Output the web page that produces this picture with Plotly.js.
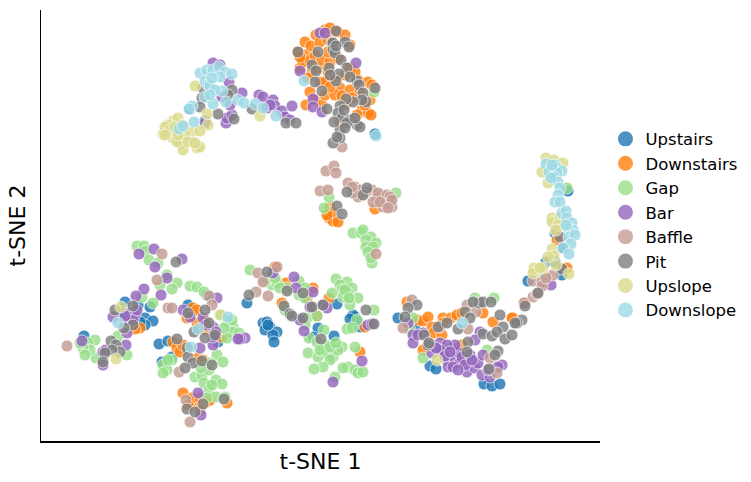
<!DOCTYPE html>
<html><head><meta charset="utf-8">
<script src="https://cdn.plot.ly/plotly-3.0.1.min.js"></script>
<style>html,body{margin:0;padding:0;background:#fff}</style></head>
<body><div id="chart" style="width:751px;height:482px"></div>
<script>
const categories = ["Upstairs","Downstairs","Gap","Bar","Baffle","Pit","Upslope","Downslope"];
const colors = ["#1f77b4","#ff7f0e","#98df8a","#9467bd","#c49c94","#7f7f7f","#dbdb8d","#9edae5"];

const upstairs = [[190,109],[375,134],[247,303],[263,323],[267,322],[270,327],[265,330],[277,332],[273,335],[274,342],[337,304],[355,317],[353,315],[360,327],[318,328],[334,336],[313,337],[125,302],[150,307],[145,318],[153,321],[145,325],[138,305],[123,313],[84,336],[159,344],[168,341],[188,305],[207,295],[162,362],[172,357],[218,342],[398,318],[430,366],[436,369],[484,384],[492,386],[500,384],[415,325],[568,191],[555,233],[563,248],[546,262],[528,281],[562,275],[555,262],[205,121],[268,325],[358,322],[350,319],[140,322]];

const downstairs = [[300,68],[305,55],[298,52],[305,42],[316,35],[325,30],[330,28],[338,32],[345,35],[350,45],[303,62],[310,60],[315,55],[318,68],[312,72],[322,60],[330,62],[338,58],[308,78],[320,82],[328,72],[335,78],[345,75],[350,68],[358,80],[368,82],[372,85],[340,88],[350,90],[360,92],[352,98],[345,105],[315,100],[322,105],[306,105],[325,95],[335,95],[362,110],[368,113],[371,115],[357,115],[370,100],[340,122],[375,209],[330,207],[329,218],[333,221],[338,222],[332,212],[327,215],[275,267],[286,283],[313,288],[307,298],[329,298],[282,303],[312,308],[317,316],[365,327],[360,352],[183,393],[193,403],[207,402],[210,400],[193,308],[187,318],[197,310],[205,330],[222,337],[173,342],[177,348],[180,352],[198,358],[203,360],[140,328],[135,329],[227,403],[192,398],[197,323],[407,302],[418,320],[423,321],[428,317],[432,327],[434,333],[443,318],[451,318],[457,315],[462,313],[443,323],[462,345],[493,322],[513,318],[483,313],[423,350],[442,335],[557,240],[567,268],[525,303],[512,318],[311,46],[320,42],[328,40],[300,57],[328,52],[325,82],[330,87],[342,96],[355,72],[365,105],[310,92],[200,398],[188,405],[200,410],[205,320],[183,345]];

const gap = [[374,92],[396,193],[324,208],[329,197],[353,233],[361,233],[363,230],[371,237],[366,240],[376,243],[366,247],[373,247],[368,252],[372,263],[371,258],[250,270],[272,285],[277,283],[268,278],[265,281],[287,288],[299,281],[305,288],[299,295],[305,298],[285,310],[307,318],[305,325],[317,316],[336,279],[347,282],[340,285],[352,288],[342,290],[348,293],[343,297],[332,293],[358,298],[350,305],[374,310],[357,320],[347,329],[352,328],[324,330],[309,338],[317,342],[323,350],[308,353],[318,357],[327,353],[333,357],[342,347],[338,350],[330,360],[323,367],[314,369],[335,377],[348,367],[343,368],[355,370],[358,373],[355,347],[363,372],[137,246],[144,246],[145,251],[149,260],[158,263],[167,275],[177,283],[160,285],[172,289],[153,303],[142,297],[190,286],[197,287],[204,292],[220,315],[228,322],[233,327],[232,332],[227,338],[239,333],[217,355],[223,362],[210,363],[195,377],[202,375],[204,383],[216,380],[222,384],[209,390],[216,397],[225,397],[172,360],[163,365],[167,370],[163,373],[118,336],[127,355],[96,358],[95,340],[88,343],[90,350],[83,348],[85,355],[80,343],[413,318],[410,330],[475,298],[494,298],[423,358],[487,350],[567,188],[543,277],[275,278],[280,288],[326,345],[320,350],[330,347],[336,343],[345,290],[349,298],[209,370],[201,368],[212,385],[207,398],[168,360],[232,320],[224,328]];

const bar = [[320,33],[325,33],[356,63],[300,71],[313,99],[313,107],[322,112],[213,63],[220,65],[229,82],[242,93],[259,95],[263,97],[273,100],[275,106],[282,111],[285,117],[292,106],[290,120],[226,123],[227,118],[232,115],[230,105],[222,97],[205,123],[267,108],[273,273],[294,277],[296,288],[313,292],[310,307],[323,305],[327,308],[300,320],[304,331],[368,325],[372,324],[362,361],[333,382],[245,338],[240,339],[154,249],[139,254],[155,267],[182,259],[167,278],[161,295],[144,289],[136,296],[113,317],[130,313],[135,315],[128,320],[127,333],[183,310],[190,317],[217,298],[213,327],[216,332],[213,345],[238,339],[126,345],[103,352],[106,350],[103,365],[82,341],[200,348],[198,393],[201,415],[203,318],[423,333],[413,335],[413,343],[418,335],[432,353],[440,343],[443,351],[447,360],[452,348],[455,358],[448,367],[460,363],[467,372],[468,360],[475,368],[478,363],[482,375],[483,355],[490,377],[502,365],[498,367],[480,332],[475,340],[458,352],[455,345],[462,357],[447,345],[453,367],[470,355],[408,323],[551,285],[133,320],[137,310],[125,316],[213,337],[206,325],[440,350],[445,356],[450,352],[465,365],[472,360],[458,370],[436,348],[488,370],[270,105]];

const baffle = [[342,147],[326,171],[334,166],[336,173],[320,191],[328,190],[348,183],[355,187],[358,197],[372,190],[377,198],[382,195],[389,202],[383,207],[392,207],[378,193],[360,190],[353,193],[387,195],[390,197],[373,202],[376,254],[277,267],[258,273],[263,282],[256,292],[268,296],[162,254],[157,280],[168,308],[172,308],[67,346],[209,296],[212,305],[179,372],[186,400],[190,422],[412,300],[403,328],[467,305],[476,312],[468,329],[490,358],[497,373],[440,327],[553,275],[533,281],[542,282],[542,286],[533,297],[537,294],[524,303],[556,231],[386,204],[380,202],[392,200],[388,208],[352,187],[366,192],[546,278]];

const pit = [[336,31],[332,43],[333,43],[345,42],[349,47],[298,52],[318,52],[333,50],[335,53],[341,60],[312,65],[316,71],[329,68],[347,68],[339,74],[336,81],[315,82],[322,91],[357,81],[359,85],[363,93],[375,88],[366,102],[362,100],[353,102],[346,99],[327,109],[340,106],[338,113],[342,118],[350,120],[357,125],[360,127],[340,130],[347,123],[340,138],[333,143],[337,137],[232,90],[228,95],[202,98],[200,107],[218,114],[234,119],[286,123],[296,123],[252,109],[203,88],[347,192],[363,195],[367,188],[337,206],[342,214],[267,272],[249,295],[287,291],[303,293],[284,306],[290,314],[292,316],[303,318],[312,307],[323,305],[366,310],[374,324],[321,339],[176,262],[115,310],[133,306],[133,325],[124,328],[111,341],[116,345],[120,352],[112,350],[105,353],[103,362],[188,313],[205,310],[209,323],[194,332],[205,338],[215,335],[177,339],[187,348],[188,357],[193,363],[202,361],[212,365],[185,368],[203,404],[224,399],[187,409],[195,412],[417,305],[408,308],[405,317],[424,335],[428,345],[438,327],[447,323],[458,329],[465,312],[470,318],[479,303],[483,302],[491,302],[483,334],[492,336],[500,315],[503,327],[497,332],[505,339],[512,335],[522,320],[517,323],[468,342],[467,352],[498,351],[495,355],[489,369],[429,343],[473,302],[560,237],[562,269],[538,293],[525,306],[515,323],[336,46],[334,122],[344,110],[355,118],[345,128],[330,75],[350,77]];

const upslope = [[195,86],[207,114],[208,125],[260,116],[163,134],[173,121],[178,118],[168,125],[165,127],[173,138],[170,130],[180,143],[183,150],[192,132],[200,131],[193,142],[197,148],[200,147],[177,142],[182,125],[121,307],[116,359],[221,315],[437,360],[546,158],[554,160],[563,163],[542,172],[548,183],[552,218],[552,222],[560,217],[558,225],[556,230],[552,249],[554,256],[548,257],[534,268],[533,273],[543,268],[556,265],[569,274],[175,127],[185,135],[178,135],[188,142],[165,135],[195,143],[540,268],[552,170]];

const downslope = [[304,81],[376,136],[200,73],[207,70],[213,70],[219,67],[225,72],[232,74],[205,81],[208,85],[210,86],[222,91],[205,97],[213,104],[226,102],[238,100],[244,103],[255,104],[263,108],[276,116],[192,106],[189,109],[194,122],[179,129],[183,126],[220,77],[215,90],[118,323],[228,317],[198,329],[191,347],[462,323],[546,164],[555,165],[557,168],[562,171],[549,172],[557,173],[554,177],[558,182],[560,188],[558,195],[555,202],[560,202],[562,213],[566,211],[567,218],[572,223],[573,230],[568,228],[569,237],[575,235],[571,244],[563,248],[569,254],[212,78],[210,95],[552,165],[551,178],[566,225]];

const series = [upstairs,downstairs,gap,bar,baffle,pit,upslope,downslope];

const traces = series.map((pts,i)=>({
  type:"scatter", mode:"markers", name:categories[i], showlegend:false,
  x:pts.map(p=>p[0]), y:pts.map(p=>p[1]),
  marker:{color:colors[i], size:12, opacity:0.82, line:{color:"#ffffff", width:0.8}},
  hoverinfo:"skip"
}));
const legendKeys = categories.map((c,i)=>({
  type:"scatter", mode:"markers", name:c, x:[null], y:[null],
  marker:{color:colors[i], size:15, opacity:0.8, line:{width:0}}
}));

const axisBase = {showgrid:false, zeroline:false, showticklabels:false, ticks:"",
  showline:true, linecolor:"#000", linewidth:1.5, mirror:false};

Plotly.newPlot("chart", traces.concat(legendKeys), {
  width:751, height:482, paper_bgcolor:"#fff", plot_bgcolor:"#fff",
  margin:{l:41,r:151,t:10,b:41,autoexpand:false},
  font:{family:"DejaVu Sans", color:"#000"},
  xaxis:Object.assign({},axisBase,{range:[41,600], title:{text:"t-SNE 1", font:{size:22}, standoff:12}}),
  yaxis:Object.assign({},axisBase,{range:[441,10], title:{text:"t-SNE 2", font:{size:22}, standoff:8}}),
  legend:{x:1.0098, xanchor:"left", y:0.502, yanchor:"middle", font:{size:16.5}, itemsizing:"trace", itemwidth:30, bgcolor:"rgba(0,0,0,0)", tracegroupgap:0}
}, {displayModeBar:false, staticPlot:true});
</script></body></html>
